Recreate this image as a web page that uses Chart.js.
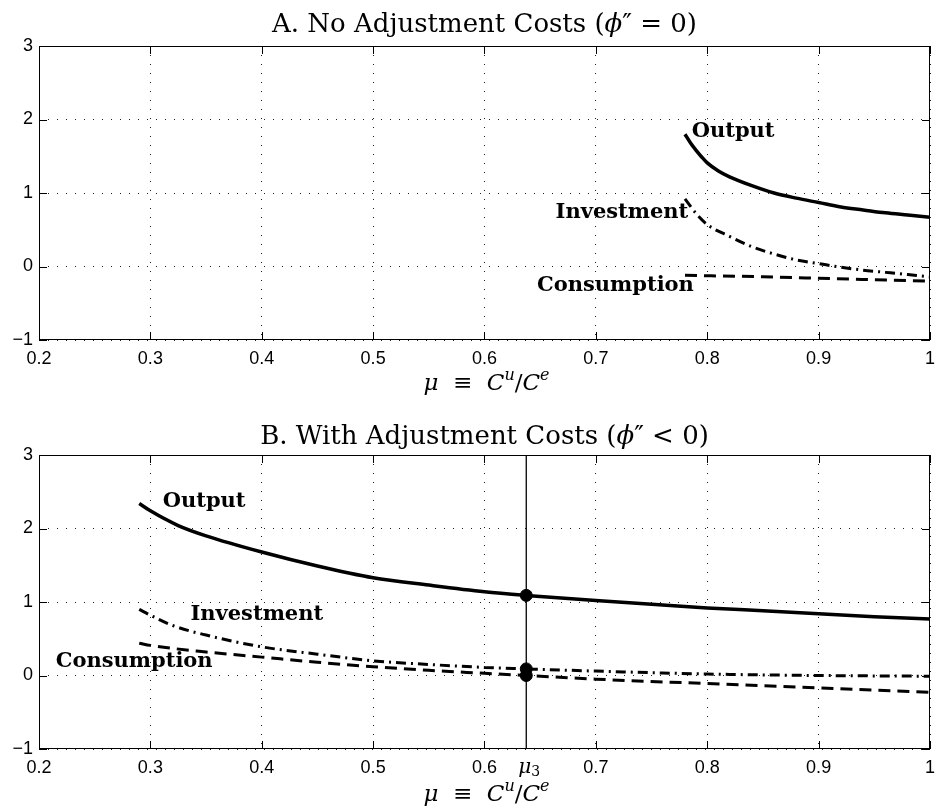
<!DOCTYPE html>
<html>
<head>
<meta charset="utf-8">
<script src="https://cdn.jsdelivr.net/npm/chart.js@4.4.0/dist/chart.umd.min.js"></script>
<style>
  html, body { margin: 0; padding: 0; background: #fff; }
  #wrap { position: relative; width: 937px; height: 807px; }
  #top, #bottom { position: absolute; left: 0; }
  #top { top: 0; }
  #bottom { top: 403px; }
</style>
</head>
<body>
<div id="wrap">
  <canvas id="top" width="937" height="403"></canvas>
  <canvas id="bottom" width="937" height="404"></canvas>
</div>
<script>
// ---- data ----
const xTicks = [0.2, 0.3, 0.4, 0.5, 0.6, 0.7, 0.8, 0.9, 1];
const yTicks = [-1, 0, 1, 2, 3];

// Panel A: no adjustment costs
const muOutputA = [0.78, 0.785, 0.79, 0.795, 0.80, 0.81, 0.82, 0.84, 0.86, 0.88, 0.90, 0.92, 0.94, 0.96, 0.98, 1.0];
const outputA   = [1.80, 1.68, 1.58, 1.49, 1.41, 1.30, 1.22, 1.10, 1.00, 0.93, 0.87, 0.81, 0.77, 0.73, 0.70, 0.67];
const muInvestA = [0.78, 0.79, 0.80, 0.82, 0.84, 0.86, 0.88, 0.90, 0.92, 0.94, 0.96, 0.98, 1.0];
const investA   = [0.92, 0.72, 0.57, 0.41, 0.27, 0.17, 0.09, 0.04, -0.01, -0.05, -0.08, -0.11, -0.14];
const muConsA   = [0.78, 0.85, 0.90, 0.95, 1.0];
const consA     = [-0.12, -0.14, -0.16, -0.18, -0.20];

// Panel B: with adjustment costs
const muOutputB = [0.29, 0.30, 0.325, 0.35, 0.40, 0.45, 0.50, 0.55, 0.60, 0.6375, 0.70, 0.75, 0.80, 0.85, 0.90, 0.95, 1.0];
const outputB   = [2.34, 2.24, 2.04, 1.90, 1.68, 1.49, 1.33, 1.23, 1.14, 1.09, 1.02, 0.97, 0.92, 0.88, 0.84, 0.80, 0.77];
const muInvestB = [0.29, 0.30, 0.32, 0.35, 0.40, 0.45, 0.50, 0.55, 0.60, 0.6375, 0.70, 0.80, 0.90, 1.0];
const investB   = [0.90, 0.82, 0.68, 0.55, 0.39, 0.29, 0.20, 0.15, 0.11, 0.09, 0.06, 0.02, 0.0, -0.01];
const muConsB   = [0.29, 0.30, 0.35, 0.40, 0.45, 0.50, 0.55, 0.60, 0.6375, 0.70, 0.80, 0.90, 1.0];
const consB     = [0.44, 0.41, 0.32, 0.25, 0.18, 0.12, 0.07, 0.03, 0.0, -0.05, -0.11, -0.17, -0.23];

const mu3 = 0.6375;
const mu3Values = [1.09, 0.09, 0.0];   // output, investment, consumption at mu3

const SERIF = '"DejaVu Serif", "Liberation Serif", serif';
const SANS = '"Liberation Sans", Arial, sans-serif';

function pts(xs, ys) {
    return xs.map((x, i) => ({ x: x, y: ys[i] }));
}

// draw a row of text pieces (font / vertical shift) centred on cx
function drawRuns(ctx, runs, cx, baseline) {
    let total = 0;
    runs.forEach(r => { ctx.font = r.font; total += ctx.measureText(r.t).width; });
    let x = cx - total / 2;
    ctx.textAlign = 'left';
    ctx.textBaseline = 'alphabetic';
    runs.forEach(r => {
        ctx.font = r.font;
        ctx.fillText(r.t, x, baseline + (r.dy || 0));
        x += ctx.measureText(r.t).width;
    });
}

const axisLabelRuns = [
    { t: 'μ', font: 'italic 23px ' + SERIF },
    { t: '  ≡  ', font: '23px ' + SERIF },
    { t: 'C', font: 'italic 23px ' + SERIF },
    { t: 'u', font: 'italic 16px ' + SERIF, dy: -10 },
    { t: '/', font: '23px ' + SERIF },
    { t: 'C', font: 'italic 23px ' + SERIF },
    { t: 'e', font: 'italic 16px ' + SERIF, dy: -10 }
];

const framePlugin = {
    id: 'frame',
    afterDraw(chart, args, opts) {
        const ctx = chart.ctx;
        const a = chart.chartArea;
        const xs = chart.scales.x, ys = chart.scales.y;
        ctx.save();
        ctx.strokeStyle = '#000';
        ctx.lineWidth = 1;
        ctx.setLineDash([]);
        ctx.strokeRect(Math.round(a.left) + 0.5, Math.round(a.top) + 0.5,
            Math.round(a.right - a.left) - 1, Math.round(a.bottom - a.top) - 1);

        // inward tick marks on all four sides
        ctx.beginPath();
        xTicks.forEach(v => {
            const px = Math.round(xs.getPixelForValue(v)) + 0.5;
            ctx.moveTo(px, a.bottom); ctx.lineTo(px, a.bottom - 8);
            ctx.moveTo(px, a.top); ctx.lineTo(px, a.top + 8);
        });
        yTicks.forEach(v => {
            const py = Math.round(ys.getPixelForValue(v)) + 0.5;
            ctx.moveTo(a.left, py); ctx.lineTo(a.left + 8, py);
            ctx.moveTo(a.right, py); ctx.lineTo(a.right - 8, py);
        });
        ctx.stroke();

        // curve labels
        ctx.fillStyle = '#000';
        ctx.textBaseline = 'middle';
        ctx.font = 'bold 21px ' + SERIF;
        opts.labels.forEach(l => {
            ctx.textAlign = l.align;
            ctx.fillText(l.text, xs.getPixelForValue(l.x), ys.getPixelForValue(l.y));
        });

        // panel title
        const cx = (a.left + a.right) / 2;
        drawRuns(ctx, opts.title, cx, a.top - opts.titleGap);

        // x axis label
        drawRuns(ctx, axisLabelRuns, cx + 2, a.bottom + opts.axisGap);

        if (opts.mu3) {
            drawRuns(ctx, [
                { t: 'μ', font: 'italic 20px ' + SERIF },
                { t: '3', font: '14px ' + SERIF, dy: 3 }
            ], xs.getPixelForValue(mu3) + 3, a.bottom + 24);
        }
        ctx.restore();
    }
};

function scalesFor(xHeight) {
    return {
        x: {
            type: 'linear', min: 0.2, max: 1,
            afterBuildTicks: s => { s.ticks = xTicks.map(v => ({ value: v })); },
            afterFit: s => { s.height = xHeight; s.paddingLeft = 0; s.paddingRight = 0; },
            border: { display: false, dash: [1, 8] },
            grid: { color: '#222', lineWidth: 1, drawTicks: false },
            ticks: {
                padding: 8, color: '#000',
                font: { family: SANS, size: 18 },
                callback: v => (v === 1 ? '1' : v.toFixed(1))
            }
        },
        y: {
            type: 'linear', min: -1, max: 3,
            afterBuildTicks: s => { s.ticks = yTicks.map(v => ({ value: v })); },
            afterFit: s => { s.width = 39; s.paddingTop = 0; s.paddingBottom = 0; },
            border: { display: false, dash: [1, 8] },
            grid: { color: '#222', lineWidth: 1, drawTicks: false },
            ticks: {
                padding: 6, color: '#000',
                font: { family: SANS, size: 18 },
                callback: v => (v < 0 ? '\u2212' + Math.abs(v) : String(v))
            }
        }
    };
}

function lineSet(data, dash, width) {
    return {
        data: data,
        borderColor: '#000',
        borderWidth: width,
        borderDash: dash,
        pointRadius: 0,
        fill: false,
        cubicInterpolationMode: 'monotone'
    };
}

function makeChart(id, datasets, padTop, xHeight, pluginOpts) {
    return new Chart(document.getElementById(id), {
        type: 'line',
        data: { datasets: datasets },
        options: {
            responsive: false,
            animation: false,
            layout: { padding: { top: padTop, right: 7, left: 0, bottom: 0 } },
            plugins: { legend: { display: false }, tooltip: { enabled: false }, frame: pluginOpts },
            scales: scalesFor(xHeight)
        },
        plugins: [framePlugin]
    });
}

// ---- Panel A ----
makeChart('top', [
    lineSet(pts(muOutputA, outputA), [], 3.5),
    lineSet(pts(muInvestA, investA), [10, 5, 2, 5], 3),
    lineSet(pts(muConsA, consA), [12, 7], 3)
], 46, 63, {
    title: [
        { t: 'A. No Adjustment Costs (', font: '26px ' + SERIF },
        { t: 'ϕ', font: 'italic 26px ' + SERIF },
        { t: '″ = 0)', font: '26px ' + SERIF }
    ],
    titleGap: 14,
    axisGap: 50,
    labels: [
        { text: 'Output', x: 0.786, y: 1.84, align: 'left' },
        { text: 'Investment', x: 0.783, y: 0.74, align: 'right' },
        { text: 'Consumption', x: 0.788, y: -0.26, align: 'right' }
    ]
});

// ---- Panel B ----
makeChart('bottom', [
    lineSet(pts(muOutputB, outputB), [], 3.5),
    lineSet(pts(muInvestB, investB), [10, 5, 2, 5], 3),
    lineSet(pts(muConsB, consB), [12, 7], 3),
    {
        data: [{ x: mu3, y: -1 }, { x: mu3, y: 3 }],
        borderColor: '#000', borderWidth: 1.3, pointRadius: 0, fill: false
    },
    {
        data: mu3Values.map(v => ({ x: mu3, y: v })),
        showLine: false, pointRadius: 6, pointBackgroundColor: '#000', pointBorderColor: '#000'
    }
], 52, 58, {
    title: [
        { t: 'B. With Adjustment Costs (', font: '26px ' + SERIF },
        { t: 'ϕ', font: 'italic 26px ' + SERIF },
        { t: '″ < 0)', font: '26px ' + SERIF }
    ],
    titleGap: 11,
    axisGap: 52,
    mu3: true,
    labels: [
        { text: 'Output', x: 0.311, y: 2.36, align: 'left' },
        { text: 'Investment', x: 0.336, y: 0.83, align: 'left' },
        { text: 'Consumption', x: 0.215, y: 0.19, align: 'left' }
    ]
});
</script>
</body>
</html>
